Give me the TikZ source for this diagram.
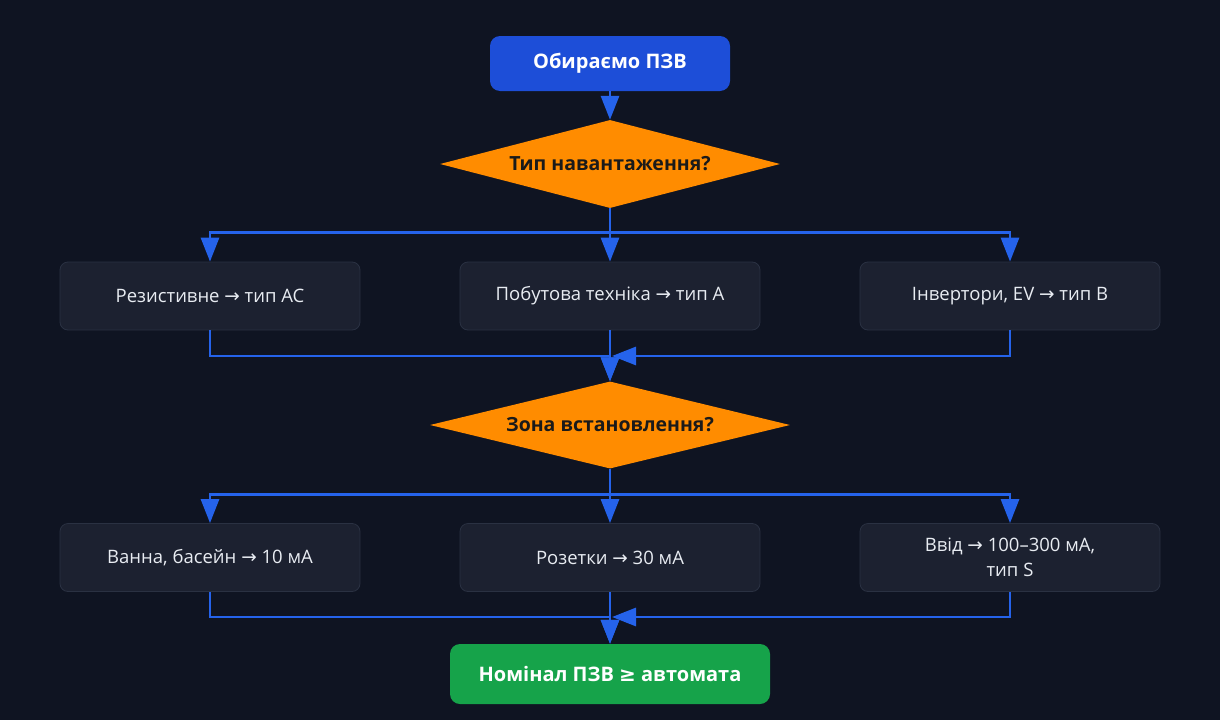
\documentclass[tikz,border=0pt]{standalone}
\usepackage{fontspec}
\setmainfont{Open Sans}
\newfontfamily\symfont{DejaVu Sans}
\usetikzlibrary{arrows.meta,shapes.geometric}
\definecolor{bg}{HTML}{0F1422}
\definecolor{edge}{HTML}{2563EB}
\definecolor{startc}{HTML}{1D4ED8}
\definecolor{decc}{HTML}{FF8C00}
\definecolor{boxc}{HTML}{1C2130}
\definecolor{boxb}{HTML}{2A3142}
\definecolor{endc}{HTML}{16A34A}
\definecolor{dtext}{HTML}{1A1A1A}
\definecolor{ltext}{HTML}{E8ECF2}
\newcommand{\ar}{{\symfont→}}
\begin{document}
\begin{tikzpicture}[x=1pt,y=-1pt,
  conn/.style={draw=edge,line width=2.9pt},
  arr/.style={conn,-{Triangle[length=24pt,width=18pt]}},
  startbox/.style={fill=startc,rounded corners=10pt,minimum width=240pt,minimum height=55pt,text=white,font=\bfseries\fontsize{20}{24}\selectfont,inner sep=0pt},
  endbox/.style={fill=endc,rounded corners=10pt,minimum width=320pt,minimum height=60pt,text=white,font=\bfseries\fontsize{20}{24}\selectfont,inner sep=0pt},
  dec/.style={diamond,fill=decc,aspect=3.9,inner sep=0pt,text=dtext,font=\bfseries\fontsize{19.5}{23}\selectfont},
  optbox/.style={fill=boxc,draw=boxb,line width=0.8pt,rounded corners=8pt,minimum width=300pt,minimum height=68pt,text=ltext,font=\fontsize{18.5}{25}\selectfont,align=center,inner sep=0pt}
]
\fill[bg] (0,0) rectangle (1220,720);
\useasboundingbox (0,0) rectangle (1220,720);

\node[startbox] (start) at (610,63.5) {Обираємо ПЗВ};
\node[dec,minimum width=340pt,minimum height=88pt] (d1) at (610,164) {Тип навантаження?};
\node[optbox] (a1) at (210,296) {Резистивне \ar\ тип AC};
\node[optbox] (a2) at (610,296) {Побутова техніка \ar\ тип A};
\node[optbox] (a3) at (1010,296) {Інвертори, EV \ar\ тип B};
\node[dec,minimum width=360pt,minimum height=87pt] (d2) at (610,425) {Зона встановлення?};
\node[optbox] (b1) at (210,557.5) {Ванна, басейн \ar\ 10 мА};
\node[optbox] (b2) at (610,557.5) {Розетки \ar\ 30 мА};
\node[optbox] (b3) at (1010,557.5) {Ввід \ar\ 100–300 мА,\\тип S};
\node[endbox] (fin) at (610,674) {Номінал ПЗВ {\symfont ≥} автомата};

\coordinate (m1) at (612,356);
\coordinate (m2) at (612,617);

\draw[arr] (start.south) -- (d1.north);
\draw[arr] (d1.south) -- (a2.north);
\draw[arr] (d1.south) -- ++(0,24) -| (a1.north);
\draw[arr] (d1.south) -- ++(0,24) -| (a3.north);
\draw[arr] (a2.south) -- (d2.north);
\draw[arr] (a1.south) |- (610,356) -- (d2.north);
\draw[arr] (a3.south) |- (m1);

\draw[arr] (d2.south) -- (b2.north);
\draw[arr] (d2.south) -- ++(0,26) -| (b1.north);
\draw[arr] (d2.south) -- ++(0,26) -| (b3.north);
\draw[arr] (b2.south) -- (fin.north);
\draw[arr] (b1.south) |- (610,617) -- (fin.north);
\draw[arr] (b3.south) |- (m2);
\end{tikzpicture}
\end{document}
